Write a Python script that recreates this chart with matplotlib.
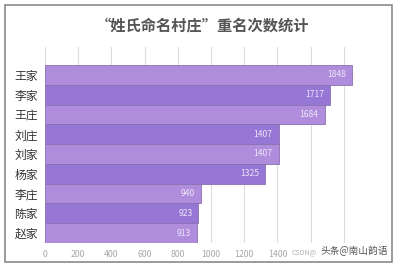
import matplotlib.pyplot as plt
from matplotlib.patches import Rectangle

plt.rcParams['font.family'] = ['Noto Sans CJK SC', 'DejaVu Sans']

names = ['王家', '李家', '王庄', '刘庄', '刘家', '杨家', '李庄', '陈家', '赵家']
counts = [1848, 1717, 1684, 1407, 1407, 1325, 940, 923, 913]
xticks = [0, 200, 400, 600, 800, 1000, 1200, 1400, 1600, 1800, 2000]
# labels from 1600 on are hidden under the watermark in the source image
xticklabels = ['0', '200', '400', '600', '800', '1000', '1200', '1400', '', '', '']
title = '“姓氏命名村庄”重名次数统计'

W, H = 400, 265
fig = plt.figure(figsize=(W / 100, H / 100), dpi=100)
fig.patch.set_facecolor('white')

# outer frame
fig.patches.append(Rectangle((5 / W, 3 / H), 387 / W, 257 / H, transform=fig.transFigure,
                             fill=False, edgecolor='#8a8a8a', linewidth=1.2))

ax = fig.add_axes([45 / W, 22 / H, 332 / W, 196 / H])
colors = ['#b08ddc' if i % 2 == 0 else '#9677d6' for i in range(len(names))]
ax.barh(range(len(names)), counts, height=1.0, color=colors,
        edgecolor='#8a72b0', linewidth=0.6, zorder=2)
for i, v in enumerate(counts):
    ax.text(v - 35, i, str(v), ha='right', va='center', fontsize=6.2,
            color='#ece4f7', zorder=3)

ax.set_xlim(0, 2000)
ax.set_ylim(8.5, -1.41)
ax.set_xticks(xticks)
ax.set_xticklabels(xticklabels, fontsize=6.3, color='#a8a8a8')
ax.set_yticks(range(len(names)))
ax.set_yticklabels(names, fontsize=8.5, color='#333333')
ax.tick_params(length=0, pad=5)
ax.grid(axis='x', color='#dddddd', linewidth=0.8, zorder=0)
for s in ax.spines.values():
    s.set_visible(False)

fig.text(203 / W, 1 - 25 / H, title, ha='center', va='center', fontsize=11,
         fontweight='bold', color='#555555')
fig.text(292 / W, 1 - 252 / H, 'CSDN@', ha='left', va='center',
         fontsize=5, color='#b0b0b0')
fig.text(388 / W, 1 - 251 / H, '头条@南山韵语', ha='right', va='center',
         fontsize=7, color='#555555')

fig.savefig('out.png', dpi=100)
